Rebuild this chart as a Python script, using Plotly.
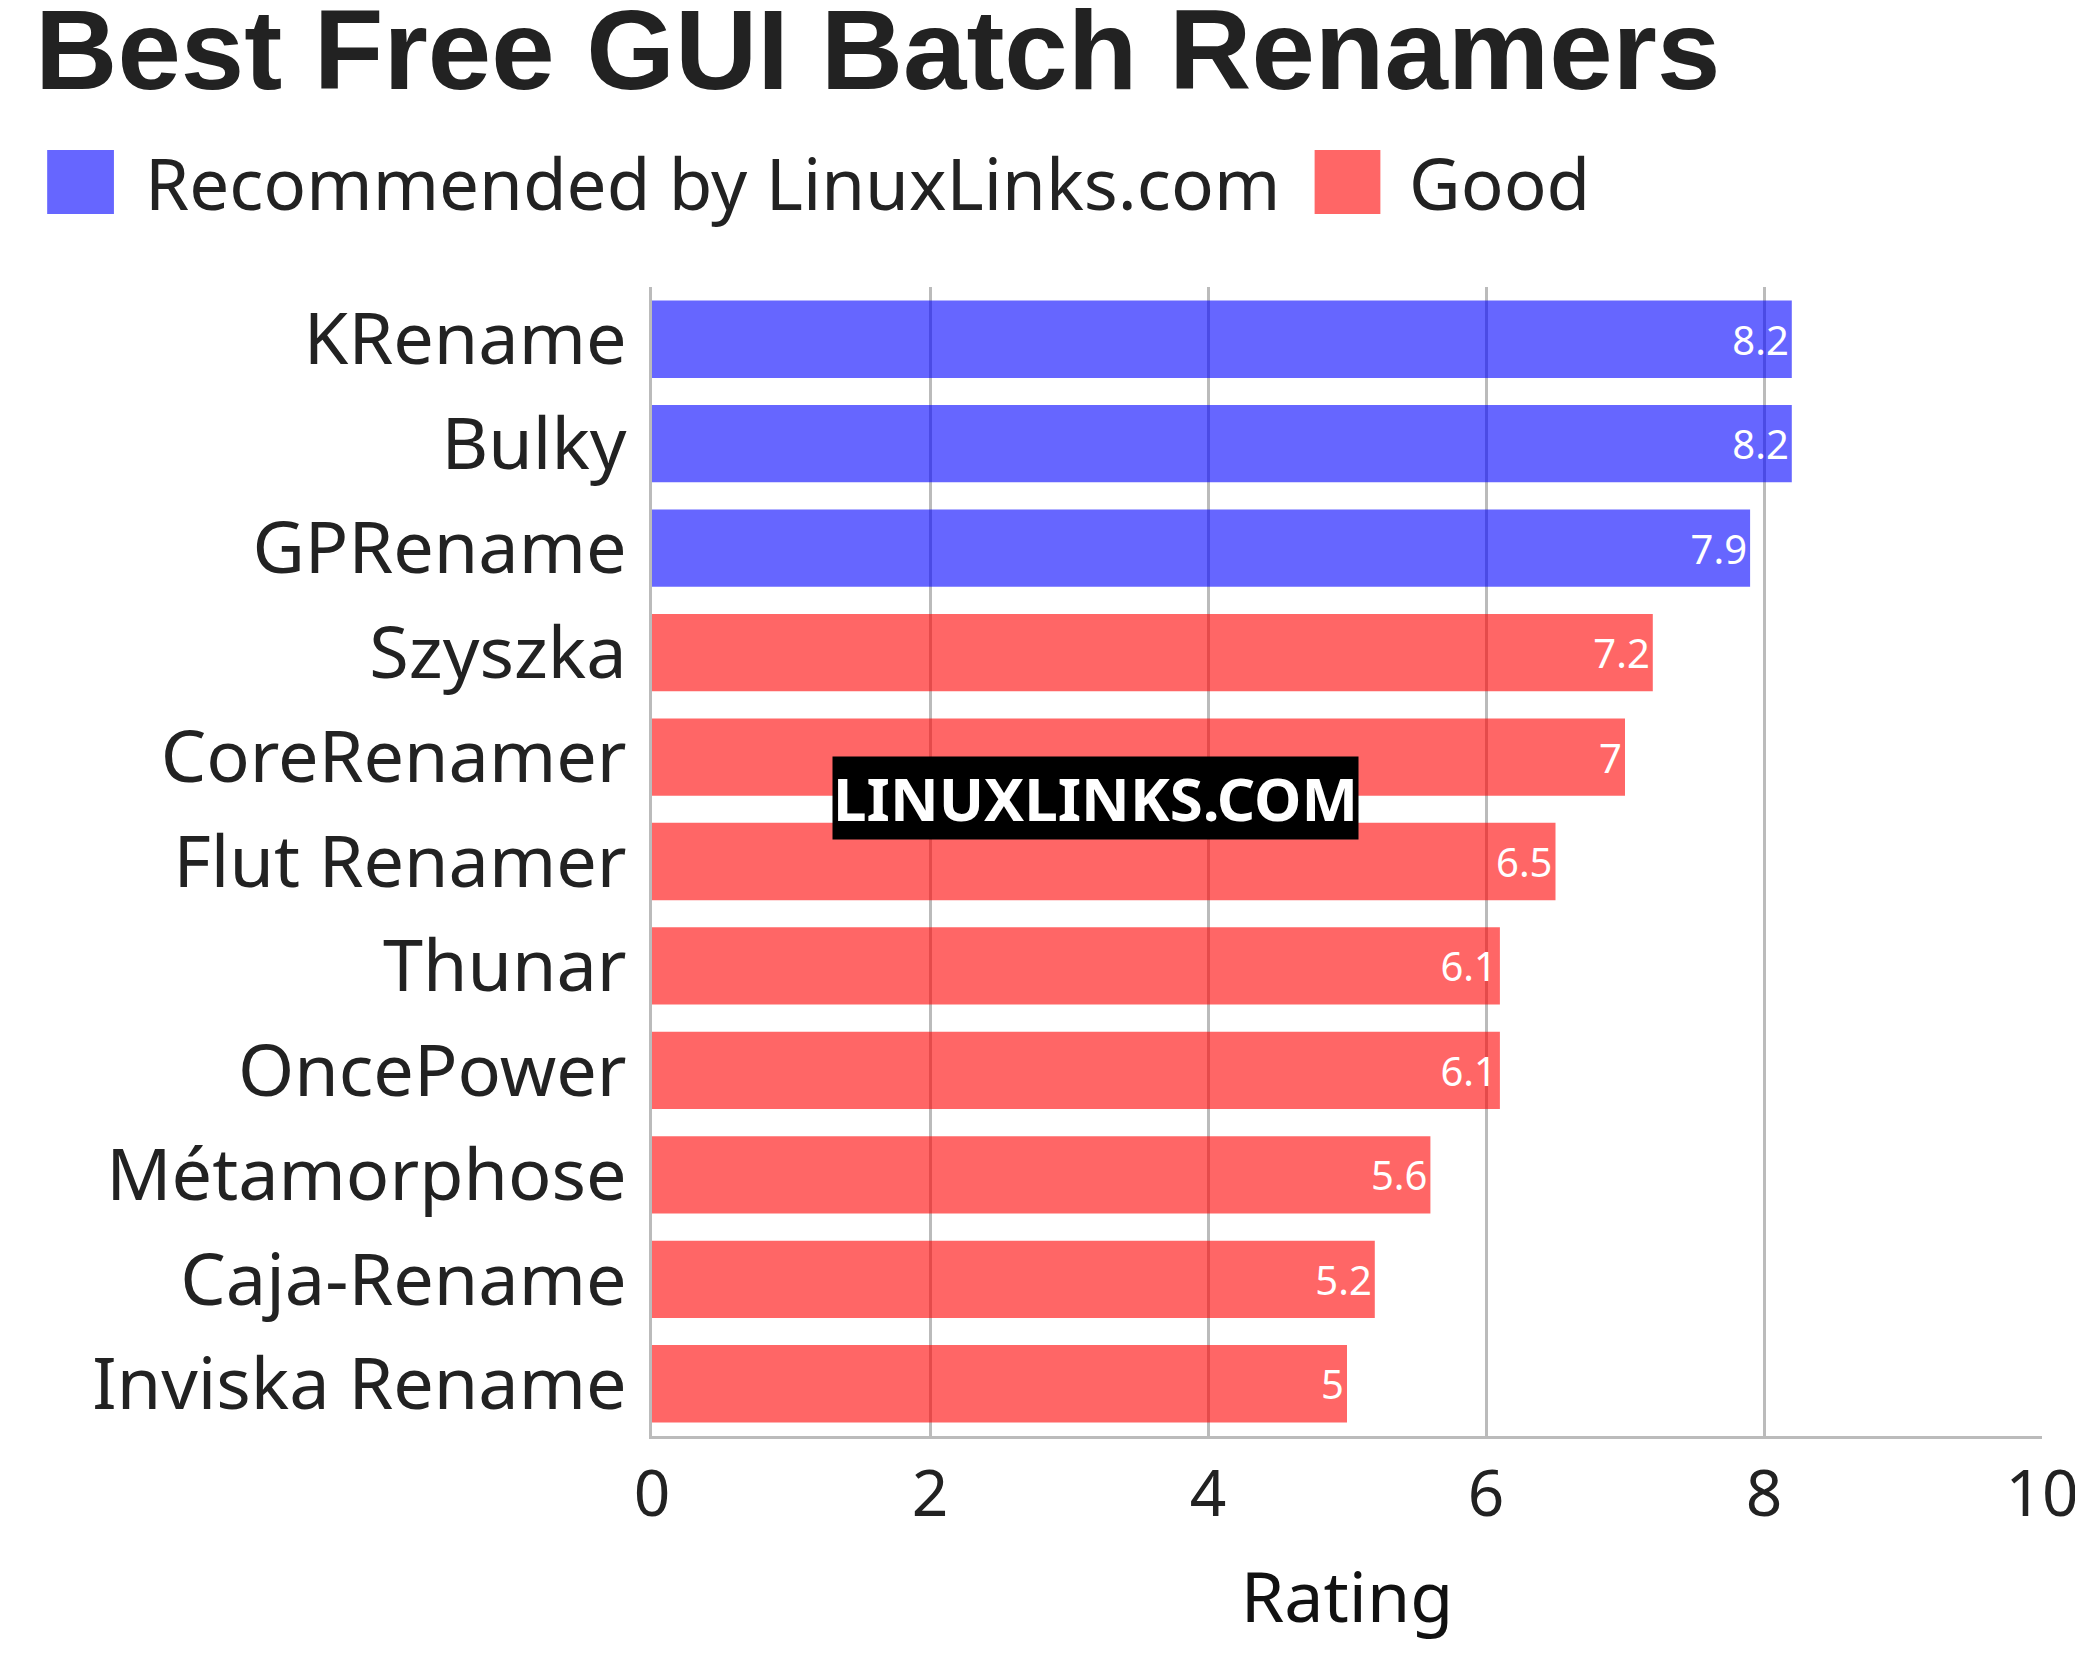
import plotly.graph_objects as go

names = ["KRename","Bulky","GPRename","Szyszka","CoreRenamer","Flut Renamer","Thunar","OncePower","Métamorphose","Caja-Rename","Inviska Rename"]
ratings = [8.2,8.2,7.9,7.2,7.0,6.5,6.1,6.1,5.6,5.2,5.0]
groups = ["Recommended by LinuxLinks.com"]*3 + ["Good"]*8
colors = {"Recommended by LinuxLinks.com":"rgba(0,0,255,0.6)","Good":"rgba(255,0,0,0.6)"}

W,H = 2083,1662
L,R,T,B = 644,2039,279,1428
px = lambda X: (X-L)/(R-L)
py = lambda Y: (B-Y)/(B-T)

fig = go.Figure()
for g in ["Recommended by LinuxLinks.com","Good"]:
    xs=[r for r,gg in zip(ratings,groups) if gg==g]
    ys=[n for n,gg in zip(names,groups) if gg==g]
    fig.add_bar(x=xs,y=ys,orientation="h",name=g,marker=dict(color=colors[g],line_width=0),
                text=[f"{v:g}" for v in xs],textposition="inside",insidetextanchor="end",
                textfont=dict(color="white",size=40,family="Noto Sans"),showlegend=False)
fig.update_layout(
    width=W,height=H,plot_bgcolor="white",paper_bgcolor="white",
    margin=dict(l=L,r=W-R,t=T,b=H-B),
    bargap=0.26,barmode="overlay",
    title=dict(text="<b>Best Free GUI Batch Renamers</b>",x=0.013,xanchor="left",y=0.975,yanchor="middle",
               font=dict(size=114,family="Liberation Sans",color="#222")),
    xaxis=dict(range=[0,10],dtick=2,showgrid=True,gridcolor="#bbbbbb",gridwidth=3,
               tickfont=dict(size=64,family="Noto Sans",color="#222"),zeroline=False,
               showline=True,linecolor="#bbbbbb",linewidth=3,ticks="",
               title=dict(text="Rating",font=dict(size=70,family="Noto Sans",color="#111"),standoff=40)),
    yaxis=dict(categoryorder="array",categoryarray=names,autorange="reversed",
               tickfont=dict(size=72,family="Noto Sans",color="#222"),ticks="",ticklabelstandoff=8,
               showline=True,linecolor="#bbbbbb",linewidth=3),
)
# legend
for (x0,x1,tx,label,c) in [(37,104,133,"Recommended by LinuxLinks.com","#6666ff"),(1309,1375,1402,"Good","#ff6666")]:
    fig.add_shape(type="rect",xref="paper",yref="paper",x0=px(x0),x1=px(x1),y0=py(206),y1=py(142),
                  fillcolor=c,line_width=0)
    fig.add_annotation(text=label,xref="paper",yref="paper",x=px(tx),y=py(174),xanchor="left",yanchor="middle",
                       showarrow=False,font=dict(size=71,family="Noto Sans",color="#222"))
fig.add_annotation(text="<b>LINUXLINKS.COM</b>",xref="paper",yref="paper",x=px(1089),xanchor="center",
                   y=py(790),yanchor="middle",showarrow=False,bgcolor="black",
                   font=dict(color="white",size=60,family="Noto Sans"),borderpad=0)
fig.add_shape(type="line",xref="paper",yref="paper",x0=px(0),x1=px(W),y0=py(1658),y1=py(1658),
              line=dict(color="black",width=3))
fig.write_html("out.html")
